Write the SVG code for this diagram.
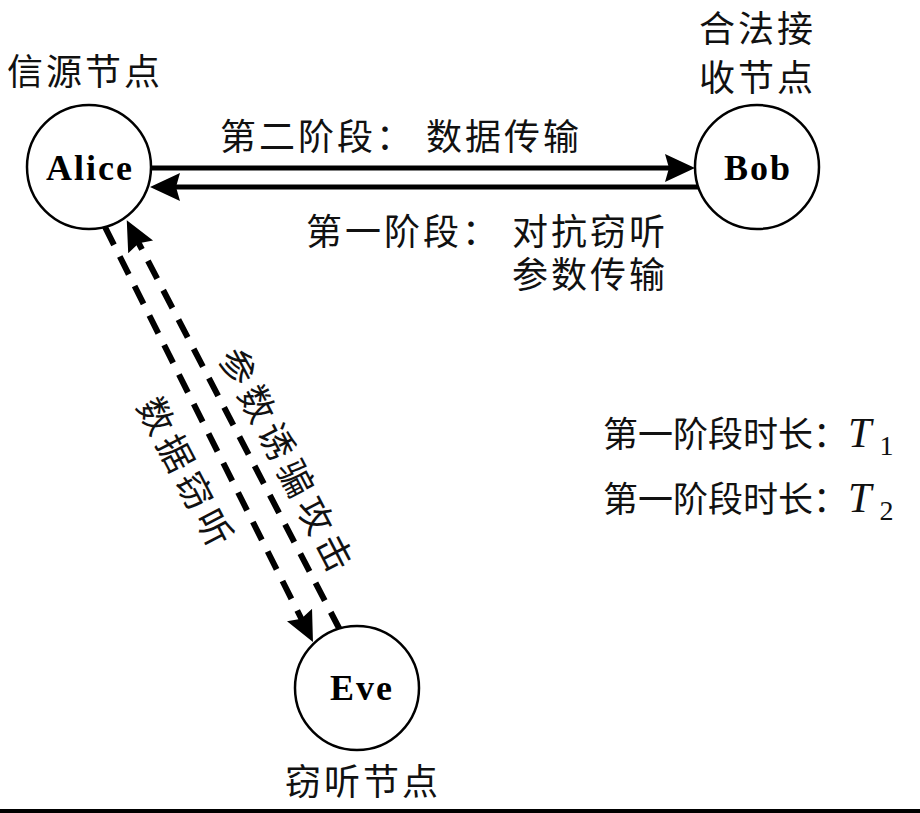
<svg xmlns="http://www.w3.org/2000/svg" width="920" height="813" viewBox="0 0 920 813">
  <style>
    .node { fill: #ffffff; stroke: #000000; stroke-width: 2.5; }
    .name { font-family: "Liberation Serif", serif; font-weight: bold; font-size: 36px; letter-spacing: 2px; text-anchor: middle; fill: #000; }
    .cn { font-family: "Noto Sans CJK SC", sans-serif; font-size: 36px; letter-spacing: 3px; fill: #111; }
    .cn2 { font-family: "Noto Sans CJK SC", sans-serif; font-size: 35px; fill: #111; }
    .rot { font-family: "Noto Sans CJK SC", sans-serif; font-size: 36px; letter-spacing: 6px; fill: #111; text-anchor: middle; dominant-baseline: central; }
    .math { font-family: "Liberation Serif", serif; font-style: italic; font-size: 42px; }
    .sub { font-family: "Liberation Serif", serif; font-style: normal; font-size: 28px; }
    .solid { stroke: #000; stroke-width: 5; fill: none; }
    .dash { stroke: #000; stroke-width: 6; fill: none; stroke-dasharray: 20 13; }
  </style>
  <defs>
    <marker id="head" viewBox="0 0 30 30" refX="10" refY="15" markerWidth="30" markerHeight="30" markerUnits="userSpaceOnUse" orient="auto">
      <path d="M0,1 L30,15 L0,29 L4,15 Z" fill="#000"/>
    </marker>
  </defs>

  <g id="connectors">
    <line class="solid" x1="152" y1="168" x2="675" y2="168" marker-end="url(#head)"/>
    <line class="solid" x1="700" y1="187" x2="170" y2="187" marker-end="url(#head)"/>
    <line class="dash" x1="105" y1="227" x2="304" y2="624" marker-end="url(#head)"/>
    <line class="dash" x1="340" y1="630" x2="136" y2="238" marker-end="url(#head)"/>
  </g>

  <g id="node-alice">
    <circle class="node" cx="89" cy="167" r="62"/>
    <text class="name" x="90" y="180">Alice</text>
    <text class="cn" x="7" y="85">信源节点</text>
  </g>

  <g id="node-bob">
    <circle class="node" cx="757" cy="167" r="62"/>
    <text class="name" x="758" y="180">Bob</text>
    <text class="cn"><tspan x="699" y="42">合法接</tspan><tspan x="699" y="91">收节点</tspan></text>
  </g>

  <g id="node-eve">
    <circle class="node" cx="357" cy="688" r="62"/>
    <text class="name" x="362" y="700">Eve</text>
    <text class="cn" x="285" y="795">窃听节点</text>
  </g>

  <g id="labels">
    <text class="cn" x="220" y="150">第二阶段：</text>
    <text class="cn" x="426" y="150">数据传输</text>
    <text class="cn" x="306" y="245">第一阶段：</text>
    <text class="cn"><tspan x="512" y="245">对抗窃听</tspan><tspan x="512" y="288">参数传输</tspan></text>
    <text class="rot" transform="translate(290 461) rotate(62.5)">参数诱骗攻击</text>
    <text class="rot" transform="translate(189 473) rotate(62.5)">数据窃听</text>
  </g>

  <g id="legend">
    <text class="cn2" x="603" y="447">第一阶段时长：<tspan class="math">T</tspan><tspan class="sub" dx="8" dy="8">1</tspan></text>
    <text class="cn2" x="603" y="512">第一阶段时长：<tspan class="math">T</tspan><tspan class="sub" dx="8" dy="8">2</tspan></text>
  </g>

  <rect x="0" y="809" width="920" height="4" fill="#000"/>
</svg>
